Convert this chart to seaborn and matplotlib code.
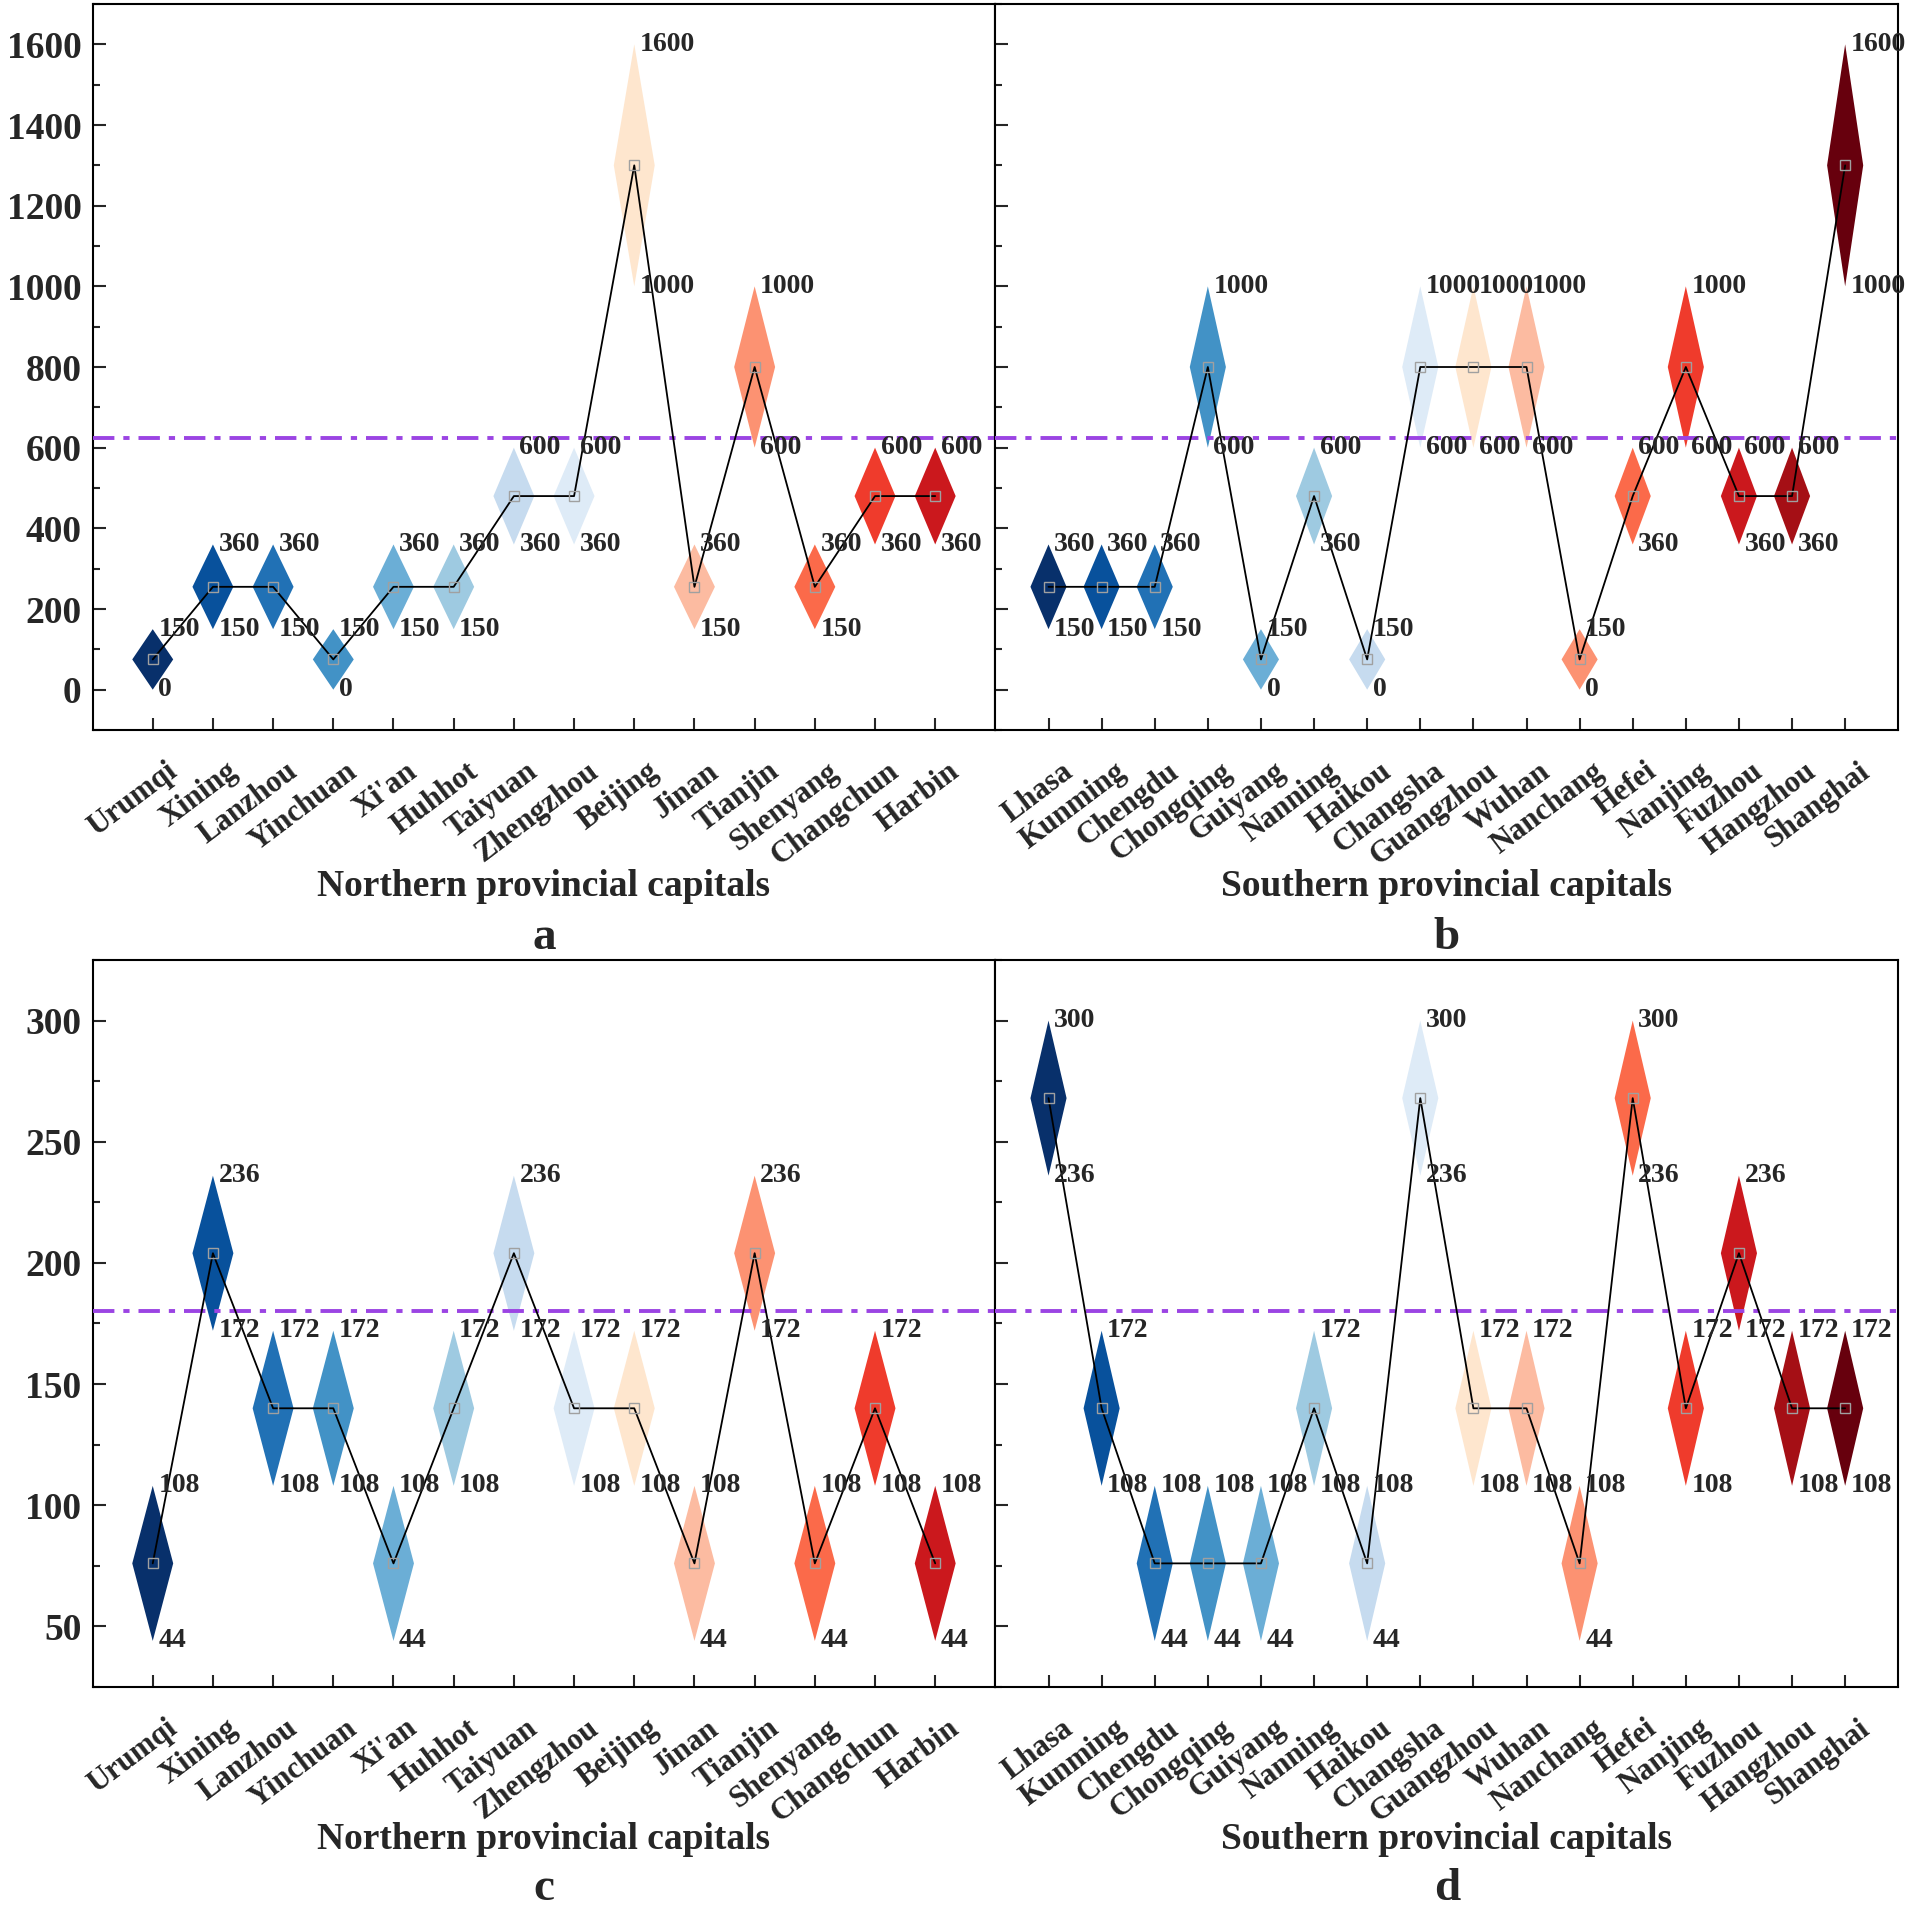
import numpy as np
import pandas as pd
import matplotlib
matplotlib.use('Agg')
import matplotlib.pyplot as plt
import matplotlib.transforms as mtransforms
import seaborn as sns
from matplotlib.ticker import MultipleLocator

# city order on the x axes
north_cities = ['Urumqi', 'Xining', 'Lanzhou', 'Yinchuan', "Xi'an", 'Huhhot', 'Taiyuan',
                'Zhengzhou', 'Beijing', 'Jinan', 'Tianjin', 'Shenyang', 'Changchun', 'Harbin']
south_cities = ['Lhasa', 'Kunming', 'Chengdu', 'Chongqing', 'Guiyang', 'Nanning', 'Haikou',
                'Changsha', 'Guangzhou', 'Wuhan', 'Nanchang', 'Hefei', 'Nanjing', 'Fuzhou',
                'Hangzhou', 'Shanghai']

# range (low / high) per city
a_low = [0, 150, 150, 0, 150, 150, 360, 360, 1000, 150, 600, 150, 360, 360]
a_high = [150, 360, 360, 150, 360, 360, 600, 600, 1600, 360, 1000, 360, 600, 600]
b_low = [150, 150, 150, 600, 0, 360, 0, 600, 600, 600, 0, 360, 600, 360, 360, 1000]
b_high = [360, 360, 360, 1000, 150, 600, 150, 1000, 1000, 1000, 150, 600, 1000, 600, 600, 1600]
c_low = [44, 172, 108, 108, 44, 108, 172, 108, 108, 44, 172, 44, 108, 44]
c_high = [108, 236, 172, 172, 108, 172, 236, 172, 172, 108, 236, 108, 172, 108]
d_low = [236, 108, 44, 44, 44, 108, 44, 236, 108, 108, 44, 236, 108, 172, 108, 108]
d_high = [300, 172, 108, 108, 108, 172, 108, 300, 172, 172, 108, 300, 172, 236, 172, 172]

# reference (dash-dot) levels
top_ref = 625
bottom_ref = 180

palette = ['#08306b', '#08519c', '#2171b5', '#4292c6', '#6baed6', '#9ecae1', '#c6dbef',
           '#deebf7', '#fee6ce', '#fcbba1', '#fc9272', '#fb6a4a', '#ef3b2c', '#cb181d',
           '#a50f15', '#67000d']

sns.set_style('ticks')
plt.rcParams['font.family'] = ['Liberation Serif', 'DejaVu Serif']
plt.rcParams['font.weight'] = 'bold'
plt.rcParams['axes.labelweight'] = 'bold'


def draw_panel(ax, cities, low, high, ref, ylim, major, minor, xlabel, letter, show_y,
               label_y, letter_y):
    df = pd.DataFrame({'city': cities, 'low': low, 'high': high})
    df['pos'] = np.arange(len(df))
    df['mid'] = (df['low'] + df['high']) / 2
    half = 0.34
    for i, r in df.iterrows():
        ax.fill([r.pos - half, r.pos, r.pos + half, r.pos],
                [r.mid, r.high, r.mid, r.low],
                color=palette[i], lw=0, zorder=2)
        ax.annotate(str(r.high), (r.pos, r.high), xytext=(4, 0), textcoords='offset points',
                    ha='left', va='center', fontsize=20, fontweight='bold', zorder=5)
        ax.annotate(str(r.low), (r.pos, r.low), xytext=(4, 0), textcoords='offset points',
                    ha='left', va='center', fontsize=20, fontweight='bold', zorder=5)
    sns.lineplot(data=df, x='pos', y='mid', ax=ax, sort=False, color='black', lw=1.3,
                 marker='s', markersize=7, markerfacecolor='none',
                 markeredgecolor='#a0a0a0', markeredgewidth=1.0, zorder=4)
    ax.axhline(ref, color='#9b44e3', lw=2.8, dashes=(5.5, 2.3, 1.6, 2.3), zorder=3)

    ax.set_xlim(-1, len(df))
    ax.set_ylim(*ylim)
    ax.set_xticks(df['pos'])
    ax.yaxis.set_major_locator(MultipleLocator(major))
    ax.yaxis.set_minor_locator(MultipleLocator(minor))
    ax.tick_params(axis='both', which='major', direction='in', length=9, width=1.5,
                   labelsize=27, pad=8)
    ax.tick_params(axis='y', which='minor', direction='in', length=5, width=1.5)
    ax.tick_params(axis='x', which='major', pad=14)
    ax.tick_params(axis='y', labelleft=show_y)
    ax.set_xticklabels(cities, rotation=37, ha='right', va='center', rotation_mode='anchor',
                       fontsize=22, fontweight='bold')
    # nudge the slanted labels down-right, as in the original layout
    shift = mtransforms.ScaledTranslation(0.21, -0.19, ax.figure.dpi_scale_trans)
    for lab in ax.get_xticklabels():
        lab.set_transform(lab.get_transform() + shift)
    for s in ax.spines.values():
        s.set_linewidth(1.5)
        s.set_color('black')
    ax.set_ylabel('')
    ax.set_xlabel(xlabel, fontsize=27, fontweight='bold')
    ax.xaxis.set_label_coords(0.5, label_y)
    ax.xaxis.label.set_va('center')
    ax.text(0.5, letter_y, letter, transform=ax.transAxes, ha='center', va='baseline',
            fontsize=34, fontweight='bold')


fig = plt.figure(figsize=(19.08, 19.12), dpi=100)
w = 0.4732
ax_a = fig.add_axes([0.0485, 0.6182, w, 0.3797])
ax_b = fig.add_axes([0.0485 + w, 0.6182, w, 0.3797], sharey=ax_a)
ax_c = fig.add_axes([0.0485, 0.1177, w, 0.3802])
ax_d = fig.add_axes([0.0485 + w, 0.1177, w, 0.3802], sharey=ax_c)

draw_panel(ax_a, north_cities, a_low, a_high, top_ref, (-100, 1700), 200, 100,
           'Northern provincial capitals', 'a', True, -0.215, -0.302)
draw_panel(ax_b, south_cities, b_low, b_high, top_ref, (-100, 1700), 200, 100,
           'Southern provincial capitals', 'b', False, -0.215, -0.302)
draw_panel(ax_c, north_cities, c_low, c_high, bottom_ref, (25, 325), 50, 25,
           'Northern provincial capitals', 'c', True, -0.21, -0.293)
draw_panel(ax_d, south_cities, d_low, d_high, bottom_ref, (25, 325), 50, 25,
           'Southern provincial capitals', 'd', False, -0.21, -0.293)

fig.savefig('out.png', dpi=100)
